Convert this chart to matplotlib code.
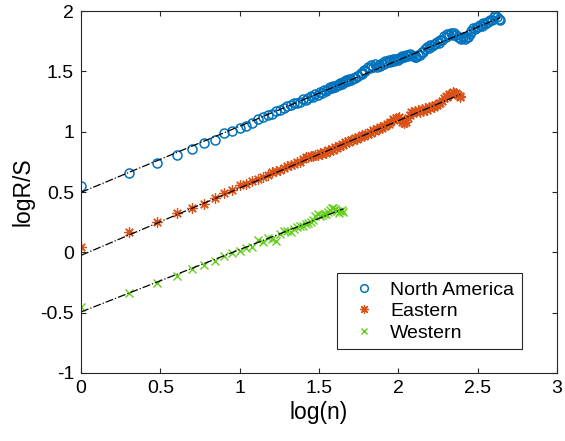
import numpy as np
import matplotlib
matplotlib.use("Agg")
import matplotlib.pyplot as plt

plt.rcParams['font.family'] = ['Liberation Sans', 'DejaVu Sans']
plt.rcParams['axes.unicode_minus'] = False

# window sizes n (x axis is log10 n) and logR/S values
na_n = [1, 2, 3, 4, 5, 6, 7, 8, 9, 10, 11, 12, 13, 14, 15, 16, 17, 18, 19, 20,
        21, 22, 23, 24, 25, 26, 27, 28, 29,
        30, 31, 32, 33, 34, 35, 36, 37, 38, 39, 40, 41, 42, 43, 44, 45, 46, 47,
        48, 49, 50, 52, 53, 55, 56, 58, 59, 61, 62, 64, 66, 67, 69, 71, 73, 75,
        77, 79, 81, 83, 85, 87, 89, 92, 94, 96, 99, 101, 104, 106, 109, 112,
        115, 118, 121, 124, 127, 130, 133, 137, 140, 144, 147, 151, 155, 159,
        163, 167, 171, 175, 180, 184, 189, 194, 199, 204, 209, 214, 220, 225,
        231, 237, 243, 249, 255, 262, 268, 275, 282, 289, 296, 304, 311, 319,
        327, 335, 344, 352, 361, 370, 380, 389, 399, 409, 419, 430, 440]
na_rs = [0.547, 0.661, 0.742, 0.806, 0.856, 0.903, 0.931, 0.986, 1.006, 1.033,
         1.050, 1.070, 1.106, 1.118, 1.135, 1.150, 1.168, 1.180, 1.195, 1.212,
         1.218, 1.236, 1.240, 1.250, 1.270, 1.266, 1.279, 1.296, 1.291,
         1.312, 1.306, 1.328, 1.323, 1.346, 1.339, 1.353, 1.368, 1.361, 1.379,
         1.371, 1.389, 1.389, 1.404, 1.395, 1.412, 1.409, 1.425, 1.416, 1.433,
         1.430, 1.449, 1.446, 1.465, 1.461, 1.483, 1.480, 1.510, 1.501, 1.537,
         1.524, 1.553, 1.540, 1.557, 1.538, 1.555, 1.546, 1.569, 1.561, 1.584,
         1.574, 1.592, 1.580, 1.601, 1.588, 1.603, 1.596, 1.613, 1.608, 1.627,
         1.622, 1.638, 1.630, 1.644, 1.633, 1.624, 1.620, 1.619, 1.636, 1.636,
         1.661, 1.660, 1.685, 1.699, 1.693, 1.715, 1.711, 1.730, 1.725, 1.742,
         1.739, 1.760, 1.757, 1.791, 1.782, 1.813, 1.798, 1.819, 1.801, 1.816,
         1.800, 1.788, 1.774, 1.765, 1.781, 1.767, 1.788, 1.784, 1.810, 1.836,
         1.856, 1.853, 1.871, 1.865, 1.883, 1.879, 1.897, 1.893, 1.911, 1.908,
         1.929, 1.926, 1.952, 1.968, 1.954, 1.935, 1.926]

ea_n = [1, 2, 3, 4, 5, 6, 7, 8, 9, 10, 11, 12, 13, 14, 15, 16, 17, 18, 19, 20,
        21, 22, 23, 24, 25, 26, 27, 28, 29,
        30, 31, 32, 33, 34, 35, 36, 37, 38, 39, 40, 41, 42, 43, 44, 45, 46, 47,
        48, 49, 50, 52, 53, 55, 56, 58, 59, 61, 62, 64, 66, 67, 69, 71, 73, 75,
        77, 79, 81, 83, 85, 87, 89, 92, 94, 96, 99, 101, 104, 106, 109, 112,
        115, 118, 121, 124, 127, 130, 133, 137, 140, 144, 147, 151, 155, 159,
        163, 167, 171, 175, 180, 184, 189, 194, 199, 204, 209, 214, 220, 225,
        231, 237, 243, 245]
ea_rs = [0.047, 0.167, 0.250, 0.325, 0.367, 0.403, 0.450, 0.490, 0.514, 0.556,
         0.566, 0.589, 0.611, 0.625, 0.639, 0.667, 0.672, 0.681, 0.700, 0.712,
         0.722, 0.731, 0.750, 0.752, 0.775, 0.790, 0.788, 0.795, 0.800,
         0.807, 0.803, 0.821, 0.814, 0.832, 0.825, 0.847, 0.840, 0.855, 0.849,
         0.869, 0.863, 0.885, 0.879, 0.896, 0.892, 0.911, 0.904, 0.921, 0.913,
         0.929, 0.929, 0.945, 0.942, 0.959, 0.955, 0.971, 0.967, 0.983, 0.980,
         1.000, 0.992, 1.011, 1.006, 1.025, 1.019, 1.038, 1.034, 1.050, 1.046,
         1.064, 1.061, 1.079, 1.101, 1.098, 1.117, 1.117, 1.123, 1.106, 1.080,
         1.070, 1.084, 1.110, 1.141, 1.162, 1.158, 1.174, 1.163, 1.180, 1.163,
         1.188, 1.171, 1.194, 1.181, 1.201, 1.193, 1.211, 1.207, 1.225, 1.221,
         1.240, 1.235, 1.257, 1.277, 1.293, 1.289, 1.315, 1.310, 1.327, 1.318,
         1.319, 1.305, 1.296, 1.288]

we_n = list(range(1, 46))
we_rs = [-0.450, -0.333, -0.255, -0.197, -0.140, -0.106, -0.069, -0.028, -0.006,
         0.008, 0.033, 0.047, 0.106, 0.089, 0.117, 0.110, 0.092, 0.150, 0.181,
         0.180, 0.170, 0.195, 0.208, 0.215, 0.222, 0.235, 0.240, 0.248, 0.270,
         0.300, 0.319, 0.300, 0.312, 0.320, 0.315, 0.332, 0.350, 0.365, 0.370,
         0.360, 0.345, 0.330, 0.340, 0.348, 0.338]

# fitted lines (intercept, slope) as drawn on the chart
na_fit = (0.497, 0.548)
ea_fit = (-0.025, 0.558)
we_fit = (-0.494, 0.517)

labels = ['North America', 'Eastern', 'Western']
colors = ['#0072BD', '#D95319', '#63CF1B']

fig = plt.figure(figsize=(5.65, 4.41), dpi=100)
ax = fig.add_axes([0.1434, 0.1542, 0.8424, 0.8208])

# MATLAB-style '*' is a plus and an x on top of each other
series = [(na_n, na_rs, na_fit, 'o', 6.5, 1.1), (ea_n, ea_rs, ea_fit, (8, 2, 0), 7.5, 0.9),
          (we_n, we_rs, we_fit, 'x', 5.5, 1.0)]
for (n, rs, fit, mk, ms, mw), lab, c in zip(series, labels, colors):
    x = np.log10(n)
    ax.plot(x, rs, linestyle='none', marker=mk, markersize=ms,
            markerfacecolor='none', markeredgecolor=c,
            markeredgewidth=mw, label=lab)
for (n, rs, fit, mk, ms, mw) in series:
    xl = np.array([0, np.log10(n[-1])])
    ax.plot(xl, fit[0] + fit[1] * xl, color='black', linestyle='-.', linewidth=0.9)

ax.set_xlim(0, 3)
ax.set_ylim(-1, 2)
ax.set_xticks([0, 0.5, 1, 1.5, 2, 2.5, 3])
ax.set_xticklabels(['0', '0.5', '1', '1.5', '2', '2.5', '3'])
ax.set_yticks([-1, -0.5, 0, 0.5, 1, 1.5, 2])
ax.set_yticklabels(['-1', '-0.5', '0', '0.5', '1', '1.5', '2'])
ax.tick_params(direction='in', top=True, right=True, length=3.5, width=0.8,
               labelsize=14, pad=5, colors='#262626', labelcolor='black')
for sp in ax.spines.values():
    sp.set_linewidth(0.8)
    sp.set_color('#262626')
ax.set_xlabel('log(n)', fontsize=16.5, labelpad=3)
ax.set_ylabel('logR/S', fontsize=16.5, labelpad=4)

leg = ax.legend(loc='lower right', bbox_to_anchor=(0.926, 0.0655), borderaxespad=0,
                fontsize=14, fancybox=False, edgecolor='#262626', framealpha=1,
                handlelength=2.0, handletextpad=0.35, borderpad=0.4,
                labelspacing=0.2, markerscale=0.85)
leg.get_frame().set_linewidth(0.8)

fig.savefig('out.png', dpi=100)
